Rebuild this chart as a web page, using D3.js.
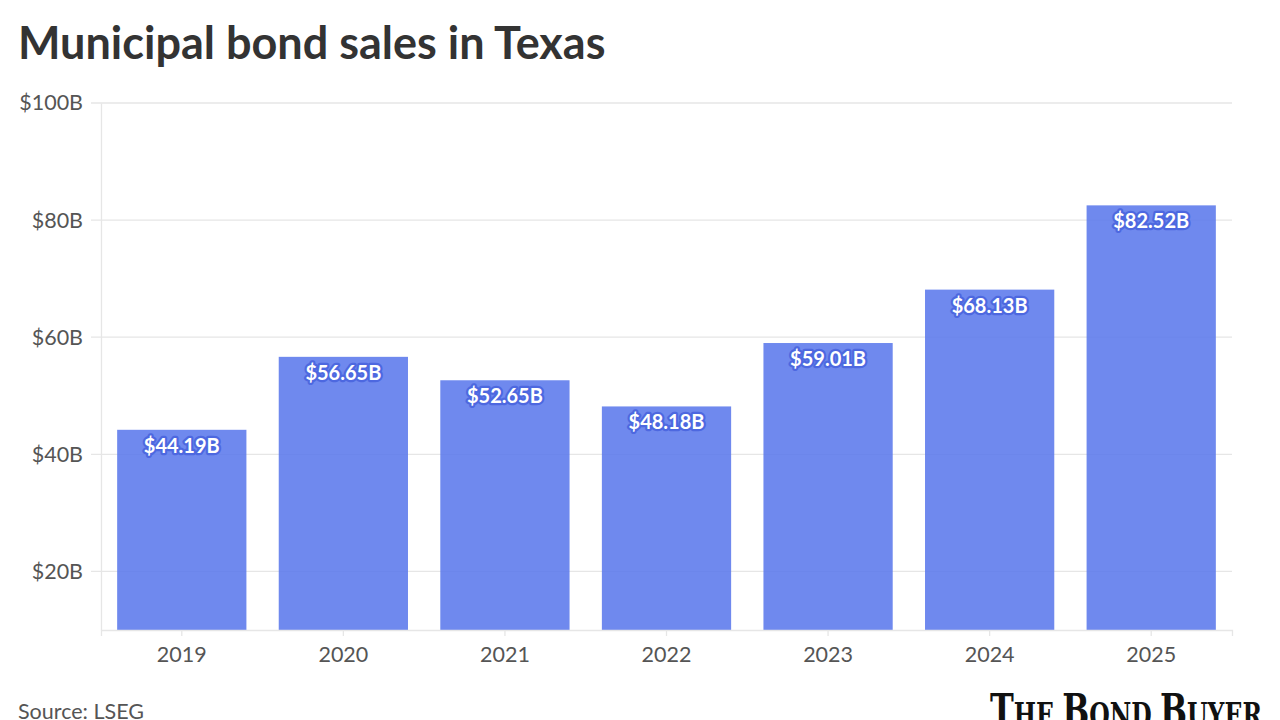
<!DOCTYPE html>
<html>
<head>
<meta charset="utf-8">
<script src="https://cdn.jsdelivr.net/npm/d3@7"></script>
<style>
  html, body { margin: 0; padding: 0; background: #fff; }
  svg { display: block; }
</style>
</head>
<body>
<svg id="chart" width="1280" height="720"></svg>
<script>
const years = ["2019", "2020", "2021", "2022", "2023", "2024", "2025"];
const sales = [44.19, 56.65, 52.65, 48.18, 59.01, 68.13, 82.52];
const yTicks = [20, 40, 60, 80, 100];

const W = 1280, H = 720;
const margin = { top: 103, right: 48, bottom: 90, left: 101 };
const svg = d3.select("#chart");
const FONT = "Lato, 'Open Sans', sans-serif";

const x = d3.scaleBand().domain(years).range([margin.left, W - margin.right]).paddingInner(0.2).paddingOuter(0.1);
const y = d3.scaleLinear().domain([10, 100]).range([H - margin.bottom, margin.top]);

// title
svg.append("text").attr("x", 18).attr("y", 59)
  .style("font-family", FONT).style("font-weight", 700).style("font-size", "45px")
  .attr("fill", "#333").text("Municipal bond sales in Texas");

// gridlines
svg.append("g").selectAll("line").data(yTicks).join("line")
  .attr("x1", margin.left - 10).attr("x2", W - margin.right)
  .attr("y1", d => y(d)).attr("y2", d => y(d))
  .attr("stroke", "#e6e6e6").attr("stroke-width", 1.3);

// y axis
const yAxis = svg.append("g").attr("transform", `translate(${margin.left},0)`)
  .call(d3.axisLeft(y).tickValues(yTicks).tickSize(0).tickPadding(18).tickFormat(d => "$" + d + "B"));
yAxis.select(".domain").attr("stroke", "#e6e6e6").attr("stroke-width", 1.3);
yAxis.selectAll("text").style("font-family", FONT).style("font-size", "21.5px").attr("fill", "#555");

// bars
svg.append("g").selectAll("rect").data(years).join("rect")
  .attr("x", d => x(d)).attr("width", x.bandwidth())
  .attr("y", (d, i) => y(sales[i])).attr("height", (d, i) => y(10) - y(sales[i]))
  .attr("fill", "#5a78ec").attr("fill-opacity", 0.87);

// x axis
const xAxis = svg.append("g").attr("transform", `translate(0,${H - margin.bottom})`)
  .call(d3.axisBottom(x).tickSize(6).tickPadding(11));
xAxis.select(".domain").attr("stroke", "#e6e6e6").attr("stroke-width", 1.3);
xAxis.selectAll(".tick line").attr("stroke", "#e6e6e6").attr("stroke-width", 1.3);
xAxis.selectAll("text").style("font-family", FONT).style("font-size", "21.5px").attr("fill", "#555");

// value labels
svg.append("g").selectAll("text").data(years).join("text")
  .attr("x", d => x(d) + x.bandwidth() / 2)
  .attr("y", (d, i) => y(sales[i]) + 23)
  .attr("text-anchor", "middle")
  .style("font-family", FONT).style("font-weight", 700).style("font-size", "20px")
  .attr("fill", "#fff").attr("stroke", "#4d68e0").attr("stroke-width", 4.5)
  .attr("stroke-linejoin", "round").attr("paint-order", "stroke")
  .text((d, i) => "$" + sales[i].toFixed(2) + "B");

// source
svg.append("text").attr("x", 18).attr("y", 719)
  .style("font-family", FONT).style("font-size", "21.5px").attr("fill", "#555")
  .text("Source: LSEG");

// logo
const logo = svg.append("text").attr("x", 0).attr("y", 0)
  .style("font-family", "'DejaVu Serif Condensed', 'Liberation Serif', serif")
  .style("font-weight", 700).attr("fill", "#111");
[["T", 38], ["HE ", 28], ["B", 38], ["OND ", 28], ["B", 38], ["UYER", 28]].forEach(([t, s]) => {
  logo.append("tspan").style("font-size", s + "px").text(t);
});
const lw = logo.node().getComputedTextLength();
const sx = 272 / lw;
logo.attr("transform", `translate(990,727) scale(${sx},1.22)`);
</script>
</body>
</html>
